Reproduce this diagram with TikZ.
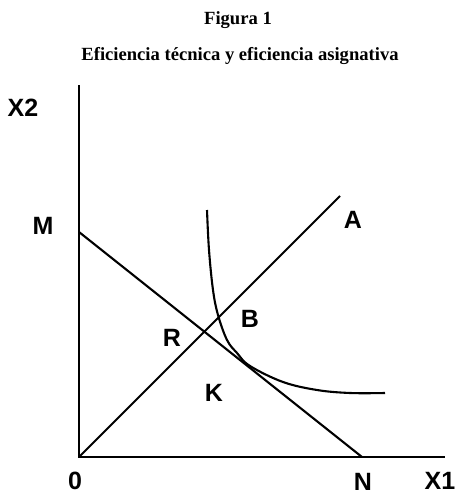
\documentclass[tikz,border=0pt]{standalone}
\usepackage{fontspec}
\setmainfont{Liberation Serif}
\newfontfamily\lblfont{Liberation Sans}
\begin{document}
\begin{tikzpicture}[x=1pt,y=-1pt,
  axisline/.style={line width=2.3pt},
  curveline/.style={line width=2.1pt},
  lbl/.style={font=\lblfont\bfseries\fontsize{25}{28}\selectfont, inner sep=0pt, anchor=center},
  ttl/.style={font=\bfseries\fontsize{18.6}{21}\selectfont, inner sep=0pt, anchor=base}]
\useasboundingbox (0,0) rectangle (458,495);
% titles
\node[ttl] (t1) at (238,25) {Figura 1};
\node[ttl] (t2) at (240,60) {Eficiencia técnica y eficiencia asignativa};
% key points
\coordinate (O) at (79,457);
\coordinate (Ytop) at (79,85);
\coordinate (Xend) at (445,457);
\coordinate (Mp) at (79,232);
\coordinate (Np) at (362,457);
\coordinate (Ap) at (340,196);
% axes
\draw[axisline] (Ytop) -- (O) -- (Xend);
% budget line and ray
\draw[curveline] (Mp) -- (Np);
\draw[curveline] (O) -- (Ap);
% isoquant
\draw[curveline] plot[smooth, tension=0.6] coordinates {(207,210) (209,250) (213,290) (218,315) (227,340) (237,353) (250,366) (283,382) (317,390) (350,393) (385,393)};
% labels
\node[lbl] (lX2) at (23,108) {X2};
\node[lbl] (lM) at (43,226) {M};
\node[lbl] (lA) at (353,220) {A};
\node[lbl] (lB) at (250,319) {B};
\node[lbl] (lR) at (172,338) {R};
\node[lbl] (lK) at (214,393) {K};
\node[lbl] (l0) at (75,481) {0};
\node[lbl] (lN) at (363,482) {N};
\node[lbl] (lX1) at (440,481) {X1};
\end{tikzpicture}
\end{document}
